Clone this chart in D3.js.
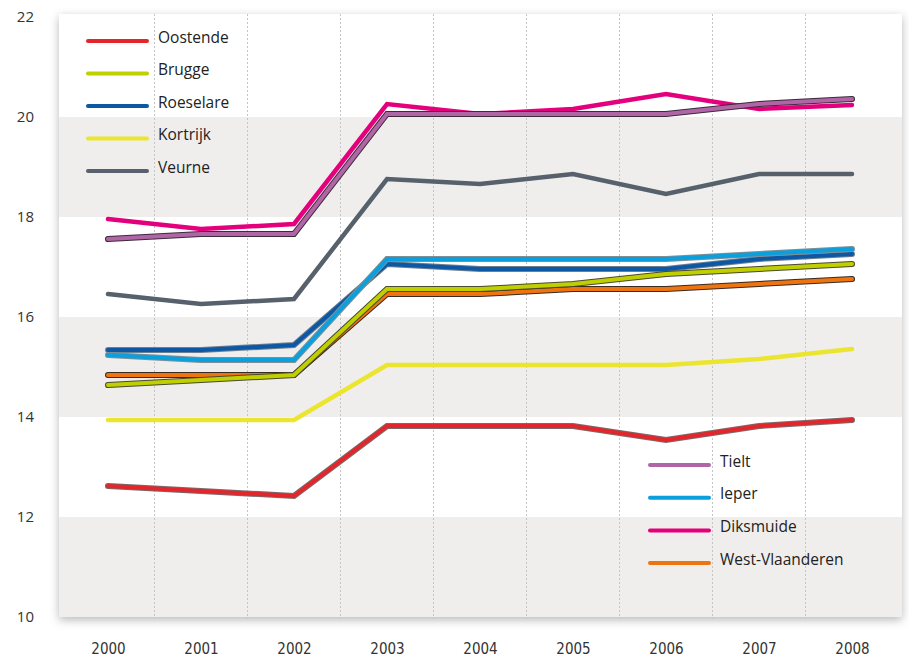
<!DOCTYPE html>
<html lang="nl">
<head>
    <meta charset="UTF-8">
    <script src="https://cdnjs.cloudflare.com/ajax/libs/d3/7.8.5/d3.min.js"></script>
    <title>Chart</title>
    <style>
        body { margin: 0; background: #fff; }
        svg { display: block; }
    </style>
</head>
<body>
<script>
    var years = [2000, 2001, 2002, 2003, 2004, 2005, 2006, 2007, 2008];
    var yTicks = [10, 12, 14, 16, 18, 20, 22];

    var oostende       = [12.62, 12.52, 12.42, 13.82, 13.82, 13.82, 13.54, 13.82, 13.94];
    var brugge         = [14.64, 14.74, 14.84, 16.56, 16.56, 16.66, 16.86, 16.96, 17.06];
    var roeselare      = [15.34, 15.34, 15.44, 17.06, 16.96, 16.96, 16.96, 17.16, 17.26];
    var kortrijk       = [13.94, 13.94, 13.94, 15.04, 15.04, 15.04, 15.04, 15.16, 15.36];
    var veurne         = [16.46, 16.26, 16.36, 18.76, 18.66, 18.86, 18.46, 18.86, 18.86];
    var tielt          = [17.56, 17.66, 17.66, 20.06, 20.06, 20.06, 20.06, 20.26, 20.36];
    var ieper          = [15.24, 15.14, 15.14, 17.16, 17.16, 17.16, 17.16, 17.26, 17.36];
    var diksmuide      = [17.96, 17.76, 17.86, 20.26, 20.06, 20.16, 20.46, 20.16, 20.24];
    var westVlaanderen = [14.84, 14.84, 14.84, 16.46, 16.46, 16.56, 16.56, 16.66, 16.76];

    var legendTop = ['Oostende', 'Brugge', 'Roeselare', 'Kortrijk', 'Veurne'];
    var legendBottom = ['Tielt', 'Ieper', 'Diksmuide', 'West-Vlaanderen'];

    // name, values, colour, outline colour (null = none)
    var series = [
        {name: 'Oostende', values: oostende, color: '#e3262b', edge: '#7a6a6a'},
        {name: 'Kortrijk', values: kortrijk, color: '#ece52f', edge: null},
        {name: 'Veurne', values: veurne, color: '#56616b', edge: null},
        {name: 'Roeselare', values: roeselare, color: '#0d58a4', edge: '#6f7f8f'},
        {name: 'Diksmuide', values: diksmuide, color: '#e4007d', edge: null},
        {name: 'West-Vlaanderen', values: westVlaanderen, color: '#ee7410', edge: '#3a2a20'},
        {name: 'Ieper', values: ieper, color: '#0b9fdc', edge: '#7f8f99'},
        {name: 'Brugge', values: brugge, color: '#c0cf00', edge: '#4a4a30'},
        {name: 'Tielt', values: tielt, color: '#b066a6', edge: '#3d2a3a'}
    ];
    var colorOf = {};
    series.forEach(function(s){ colorOf[s.name] = s.color; });

    var width = 909, height = 661;
    var plot = {left: 59, right: 902, top: 14, bottom: 617};

    var x = d3.scaleLinear().domain([2000, 2008]).range([108, 852]);
    var y = d3.scaleLinear().domain([10, 22]).range([617, 17]);

    var svg = d3.select('body').append('svg')
        .attr('width', width)
        .attr('height', height);

    var defs = svg.append('defs');
    var f = defs.append('filter').attr('id', 'shadow')
        .attr('x', '-5%').attr('y', '-5%').attr('width', '110%').attr('height', '110%');
    f.append('feDropShadow').attr('dx', 0).attr('dy', 3).attr('stdDeviation', 5)
        .attr('flood-color', '#000').attr('flood-opacity', 0.28);

    // plot background with shadow
    svg.append('rect')
        .attr('x', plot.left).attr('y', plot.top)
        .attr('width', plot.right - plot.left).attr('height', plot.bottom - plot.top)
        .attr('fill', '#fff')
        .attr('filter', 'url(#shadow)');

    // grey bands 10-12, 14-16, 18-20
    var bands = [[10, 12], [14, 16], [18, 20]];
    svg.selectAll('rect.band').data(bands).enter()
        .append('rect').attr('class', 'band')
        .attr('x', plot.left)
        .attr('width', plot.right - plot.left)
        .attr('y', function(d){ return y(d[1]); })
        .attr('height', function(d){ return y(d[0]) - y(d[1]); })
        .attr('fill', '#efeeec');

    // dashed vertical grid between years
    var mids = years.slice(1).map(function(yr){ return yr - 0.5; });
    svg.selectAll('line.grid').data(mids).enter()
        .append('line').attr('class', 'grid')
        .attr('x1', function(d){ return x(d); })
        .attr('x2', function(d){ return x(d); })
        .attr('y1', plot.top)
        .attr('y2', plot.bottom + 2)
        .attr('stroke', '#c4c4c4')
        .attr('stroke-width', 1)
        .attr('stroke-dasharray', '2,2');

    // axes labels
    var yAxis = d3.axisLeft(y).tickValues(yTicks).tickSize(0).tickPadding(0);
    var gy = svg.append('g').attr('transform', 'translate(34,0)').call(yAxis);
    gy.select('.domain').remove();
    gy.selectAll('text')
        .attr('font-family', '"Open Sans", sans-serif')
        .attr('font-size', 15)
        .attr('fill', '#333');

    var xAxis = d3.axisBottom(x).tickValues(years).tickFormat(d3.format('d')).tickSize(0).tickPadding(0);
    var gx = svg.append('g').attr('transform', 'translate(0,643)').call(xAxis);
    gx.select('.domain').remove();
    gx.selectAll('text')
        .attr('font-family', '"DejaVu Sans Condensed", "Open Sans", sans-serif')
        .attr('font-size', 15)
        .attr('fill', '#333');

    var line = d3.line()
        .x(function(d, i){ return x(years[i]); })
        .y(function(d){ return y(d); });

    var lines = svg.append('g');
    series.forEach(function(s){
        if (s.edge) {
            lines.append('path')
                .attr('d', line(s.values))
                .attr('fill', 'none')
                .attr('stroke', s.edge)
                .attr('stroke-width', 6)
                .attr('stroke-linecap', 'round')
                .attr('stroke-linejoin', 'miter');
        }
        lines.append('path')
            .attr('d', line(s.values))
            .attr('fill', 'none')
            .attr('stroke', s.color)
            .attr('stroke-width', s.edge ? 4 : 4.5)
            .attr('stroke-linecap', 'round')
            .attr('stroke-linejoin', 'miter');
    });

    // legends
    function legend(names, lx, ly, step) {
        var g = svg.append('g').attr('transform', 'translate(' + lx + ',' + ly + ')');
        var item = g.selectAll('g').data(names).enter().append('g')
            .attr('transform', function(d, i){ return 'translate(0,' + (i * step) + ')'; });
        item.append('line')
            .attr('x1', 0).attr('x2', 59)
            .attr('stroke', function(d){ return colorOf[d]; })
            .attr('stroke-width', 4)
            .attr('stroke-linecap', 'round');
        item.append('text')
            .attr('x', 70).attr('y', 0)
            .attr('dy', '0.1em')
            .attr('font-family', '"Open Sans", sans-serif')
            .attr('font-size', 15.5)
            .attr('fill', '#222')
            .text(function(d){ return d; });
    }
    legend(legendTop, 88, 41, 32.5);
    legend(legendBottom, 650, 465, 32.7);
</script>
</body>
</html>
